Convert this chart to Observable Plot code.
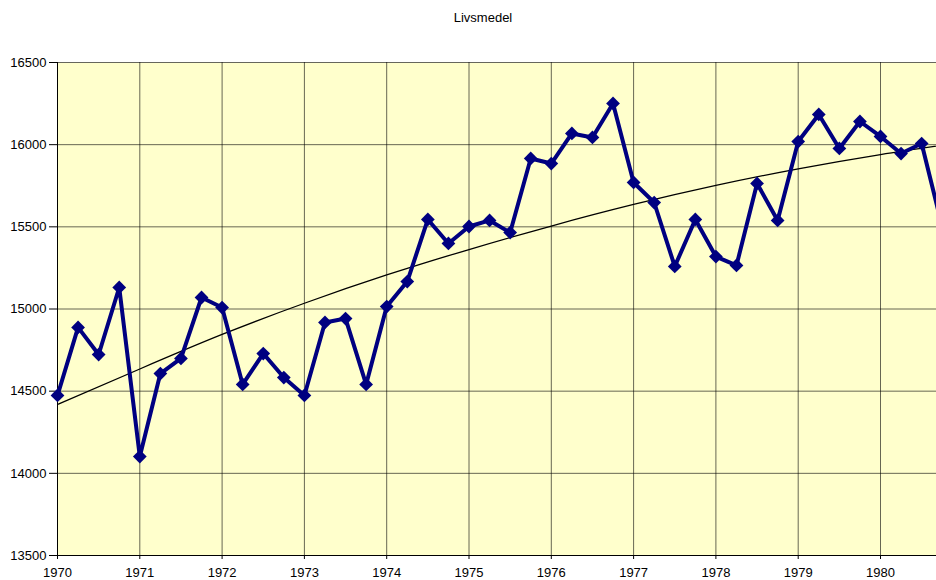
<!DOCTYPE html>
<html><head><meta charset="utf-8">
<script src="https://cdn.jsdelivr.net/npm/d3@7"></script>
<script src="https://cdn.jsdelivr.net/npm/@observablehq/plot@0.6"></script>
<style>
body{margin:0;background:#fff;font-family:"Liberation Sans",Arial,sans-serif;}
#wrap{position:relative;width:936px;height:580px;overflow:hidden;}
#title{position:absolute;top:10px;left:0;width:966px;text-align:center;font-size:13px;line-height:15px;color:#000;}
</style></head><body>
<div id="wrap"><div id="chart"></div><div id="title">Livsmedel</div></div>
<script>
const title = "Livsmedel";
const startYear = 1970;
// quarterly values, 1970 Q1 onward
const values = [
  14474, 14888, 14723, 15131,
  14102, 14607, 14699, 15070,
  15009, 14541, 14729, 14583,
  14474, 14918, 14942, 14541,
  15015, 15167, 15545, 15399,
  15502, 15539, 15465, 15916,
  15885, 16068, 16044, 16251,
  15770, 15648, 15259, 15545,
  15319, 15265, 15764, 15539,
  16019, 16184, 15977, 16141,
  16050, 15946, 16007, 15500
];
const yearTicks = [1970, 1971, 1972, 1973, 1974, 1975, 1976, 1977, 1978, 1979, 1980];
const valueTicks = [13500, 14000, 14500, 15000, 15500, 16000, 16500];
const trendYears = [1970, 1971, 1972, 1973, 1974, 1975, 1976, 1977, 1978, 1979, 1980, 1981];
const trendValues = [14419, 14635, 14845, 15035, 15207, 15362, 15505, 15636, 15752, 15853, 15940, 16015];

const series = values.map((v, i) => ({x: startYear + i / 4, y: v}));
const trend = trendYears.map((x, i) => ({x, y: trendValues[i]}));
const xMax = 1970 + 879 / 82.3;

const chart = Plot.plot({
  width: 936, height: 580,
  marginTop: 62, marginBottom: 25, marginLeft: 57, marginRight: 0,
  style: {fontFamily: "'Liberation Sans', Arial, sans-serif", fontSize: "13px", color: "#000", background: "transparent", overflow: "hidden"},
  x: {domain: [1970, xMax], label: null},
  y: {domain: [13500, 16500], label: null},
  marks: [
    Plot.frame({fill: "#FFFFCC", stroke: null}),
    Plot.gridY(valueTicks, {stroke: "#000", strokeOpacity: 0.6, strokeWidth: 1}),
    Plot.gridX(yearTicks, {stroke: "#000", strokeOpacity: 0.6, strokeWidth: 1}),
    Plot.axisY(valueTicks, {tickSize: 8, tickPadding: 3, tickFormat: d => String(d), fontSize: 13, label: null}),
    Plot.axisX(yearTicks, {tickSize: 4, tickPadding: 8, tickFormat: d => String(d), fontSize: 13, label: null}),
    Plot.ruleX([1970], {stroke: "#000"}),
    Plot.ruleY([13500], {stroke: "#000"}),
    Plot.line(trend, {x: "x", y: "y", curve: "natural", stroke: "#000", strokeWidth: 1.3, clip: true}),
    Plot.line(series, {x: "x", y: "y", stroke: "#000080", strokeWidth: 4, strokeLinejoin: "miter", clip: true}),
    Plot.dot(series.filter(d => d.x <= xMax), {x: "x", y: "y", symbol: "diamond2", r: 6.2, fill: "#000080", stroke: null})
  ]
});
document.getElementById("chart").appendChild(chart);
</script>
</body></html>
